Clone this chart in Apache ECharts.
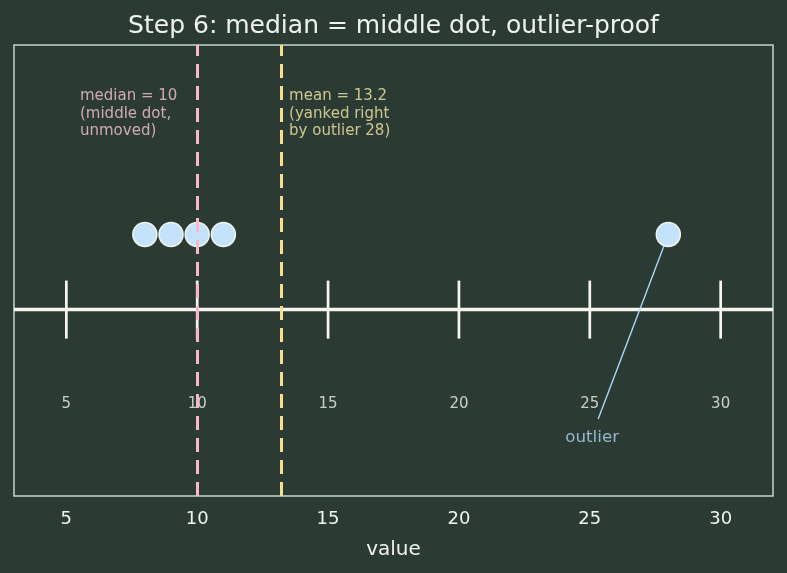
<!DOCTYPE html>
<html>
<head>
<meta charset="utf-8">
<script src="https://cdn.jsdelivr.net/npm/echarts@6/dist/echarts.min.js"></script>
<style>
  html, body { margin: 0; padding: 0; background: #2b3b34; }
  #chart { width: 787px; height: 573px; }
</style>
</head>
<body>
<div id="chart"></div>
<script>
// data
const dotValues = [8, 9, 10, 11, 28]
const dotLevel = 0.5
const lineTicks = [5, 10, 15, 20, 25, 30]
const axisTicks = [5, 10, 15, 20, 25, 30]
const medianValue = 10
const meanValue = 13.2
const outlierValue = 28
const xRange = [3, 32]

// colours
const bg = '#2b3b34'
const frame = '#c3d8ca'
const cream = '#f6f6ee'
const dotFill = '#c5e2fb'
const pink = '#f6b9cb'
const yellow = '#f8df8c'
const blueLine = '#acd6f2'
const font = 'DejaVu Sans'

const chart = echarts.init(document.getElementById('chart'))

const option = {
  backgroundColor: bg,
  animation: false,
  textStyle: { fontFamily: font },
  title: {
    text: 'Step 6: median = middle dot, outlier-proof',
    left: 'center',
    top: 9,
    textStyle: { color: '#eef3ec', fontSize: 25, fontWeight: 'normal', fontFamily: font }
  },
  grid: {
    left: 14, right: 14, top: 45, bottom: 77,
    show: true, borderColor: frame, borderWidth: 1.5, backgroundColor: 'transparent'
  },
  xAxis: {
    type: 'value',
    min: xRange[0],
    max: xRange[1],
    name: 'value',
    nameLocation: 'middle',
    nameGap: 44,
    nameTextStyle: { color: '#eef3ec', fontSize: 20, fontFamily: font },
    axisLine: { show: false },
    splitLine: { show: false },
    axisTick: { show: true, customValues: axisTicks, length: 5, lineStyle: { color: frame, width: 1.2 } },
    axisLabel: { customValues: axisTicks, color: '#eef3ec', fontSize: 18, margin: 14, fontFamily: font }
  },
  yAxis: {
    type: 'value',
    min: -1.24,
    max: 1.76,
    show: false
  },
  series: [
    {
      // number line
      type: 'line',
      data: [[xRange[0], 0], [xRange[1], 0]],
      symbol: 'none',
      lineStyle: { color: cream, width: 3.5 },
      z: 2
    },
    {
      // tick marks on number line
      type: 'scatter',
      data: lineTicks.map(v => [v, 0]),
      symbol: 'rect',
      symbolSize: [2.7, 58],
      itemStyle: { color: cream, opacity: 1 },
      z: 2
    },
    {
      // number line labels
      type: 'scatter',
      data: lineTicks.map(v => [v, -0.627]),
      symbolSize: 0,
      label: {
        show: true, position: 'inside', formatter: p => String(p.value[0]),
        color: '#eef2ec', fontSize: 15, fontFamily: font
      },
      z: 3
    },
    {
      // outlier arrow line
      type: 'line',
      data: [[25.32, -0.727], [outlierValue, dotLevel]],
      symbol: 'none',
      lineStyle: { color: blueLine, width: 1.4 },
      z: 3
    },
    {
      // outlier text
      type: 'scatter',
      data: [[25.09, -0.85]],
      symbolSize: 0,
      label: {
        show: true, position: 'inside', formatter: 'outlier',
        color: blueLine, fontSize: 16.7, fontFamily: font
      },
      z: 3
    },
    {
      // dots
      type: 'scatter',
      data: dotValues.map(v => [v, dotLevel]),
      symbolSize: 24,
      itemStyle: { color: dotFill, borderColor: '#eef5ee', borderWidth: 1.5, opacity: 1 },
      z: 4,
      markLine: {
        silent: true,
        symbol: 'none',
        label: { show: false },
        z: 6,
        data: [
          { xAxis: medianValue, lineStyle: { color: pink, width: 3, type: [14, 8] } },
          { xAxis: meanValue, lineStyle: { color: yellow, width: 3, type: [14, 8] } }
        ]
      }
    },
    {
      // annotations
      type: 'scatter',
      data: [[5.33, 1.51], [13.32, 1.51]],
      symbolSize: 0,
      z: 7,
      label: {
        show: true,
        position: 'insideTopLeft',
        align: 'left',
        verticalAlign: 'top',
        fontSize: 15,
        lineHeight: 17.5,
        fontFamily: font,
        formatter: p => p.dataIndex === 0
          ? '{m|median = 10\n(middle dot,\nunmoved)}'
          : '{y|mean = 13.2\n(yanked right\nby outlier 28)}',
        rich: {
          m: { color: '#f5c6d3', fontSize: 15, lineHeight: 17.5, fontFamily: font },
          y: { color: '#f4e7a6', fontSize: 15, lineHeight: 17.5, fontFamily: font }
        }
      }
    }
  ]
}

chart.setOption(option)
</script>
</body>
</html>
